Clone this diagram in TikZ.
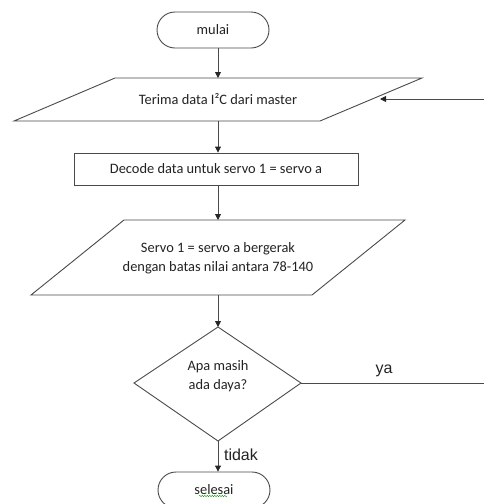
\documentclass[tikz,border=0pt]{standalone}
\usepackage{fontspec}
\setmainfont{Carlito}
\newfontfamily\arialfont{Liberation Sans}
\usetikzlibrary{arrows.meta,decorations.pathmorphing}
\definecolor{linec}{HTML}{4A4A4A}
\definecolor{textc}{HTML}{222222}
\tikzset{
  flowline/.style={draw=linec, line width=0.9pt},
  arr/.style={flowline, -{Triangle[length=6pt,width=6pt,color=black!85]}},
  shapeline/.style={draw=linec, line width=0.9pt},
  terminal/.style={shapeline, rectangle, rounded corners=18pt, minimum width=112pt, minimum height=36pt, inner sep=0pt, font=\fontsize{14.4pt}{17pt}\selectfont, text=textc},
  procbox/.style={shapeline, rectangle, minimum width=284pt, minimum height=32pt, inner sep=0pt, font=\fontsize{14.4pt}{17pt}\selectfont, text=textc},
  boxtext/.style={align=center, inner sep=0pt, font=\fontsize{14.4pt}{19pt}\selectfont, text=textc},
  lbl/.style={inner sep=0pt, font=\arialfont\fontsize{16pt}{18pt}\selectfont, text=textc}
}
\begin{document}
\begin{tikzpicture}[x=1pt,y=-1pt]
\useasboundingbox (0,0) rectangle (484,504);
% start
\node[terminal] (mulai) at (213,30) {mulai};
% input parallelogram 1
\coordinate (p1tl) at (115,78);
\coordinate (p1tr) at (422,78);
\coordinate (p1br) at (320,121);
\coordinate (p1bl) at (14,121);
\coordinate (p1top) at (218,78);
\coordinate (p1bot) at (218,121);
\draw[shapeline] (p1tl) -- (p1tr) -- (p1br) -- (p1bl) -- cycle;
\node[boxtext] (t1) at (218,99) {Terima data I²C dari master};
% process
\node[procbox] (dec) at (216,169) {Decode data untuk servo 1 = servo a};
% parallelogram 2
\coordinate (p2tl) at (124,220);
\coordinate (p2tr) at (405,220);
\coordinate (p2br) at (312,295);
\coordinate (p2bl) at (31,295);
\coordinate (p2top) at (218,220);
\coordinate (p2bot) at (218,295);
\draw[shapeline] (p2tl) -- (p2tr) -- (p2br) -- (p2bl) -- cycle;
\node[boxtext] (t2) at (218,258) {Servo 1 = servo a bergerak\\dengan batas nilai antara 78-140};
% decision
\coordinate (dtop) at (218,327);
\coordinate (dright) at (301,383);
\coordinate (dbot) at (218,441);
\coordinate (dleft) at (134,383);
\draw[shapeline] (dtop) -- (dright) -- (dbot) -- (dleft) -- cycle;
\node[boxtext] (t3) at (218,376) {Apa masih\\ada daya?};
% end
\node[terminal] (selesai) at (214,490) {selesai};
\draw[green!60!black, line width=0.4pt, decorate, decoration={snake, amplitude=0.7pt, segment length=2.5pt}] ([xshift=-15pt,yshift=-6pt]selesai.center) -- ([xshift=13pt,yshift=-6pt]selesai.center);
% connectors
\draw[arr] (mulai.south -| p1top) -- (p1top);
\draw[arr] (p1bot) -- (dec.north -| p1bot);
\draw[arr] (dec.south -| p2top) -- (p2top);
\draw[arr] (p2bot) -- (dtop);
\draw[arr] (dbot) -- (selesai.north -| dbot);
\coordinate (yaend) at (484,383);
\draw[flowline] (dright) -- (yaend);
\coordinate (loopin) at (484,99);
\coordinate (looptip) at (380,99);
\draw[arr] (loopin) -- (looptip);
% labels
\node[lbl] (ya) at (384,371) {ya};
\node[lbl] (tidak) at (241,455) {tidak};
\end{tikzpicture}
\end{document}
